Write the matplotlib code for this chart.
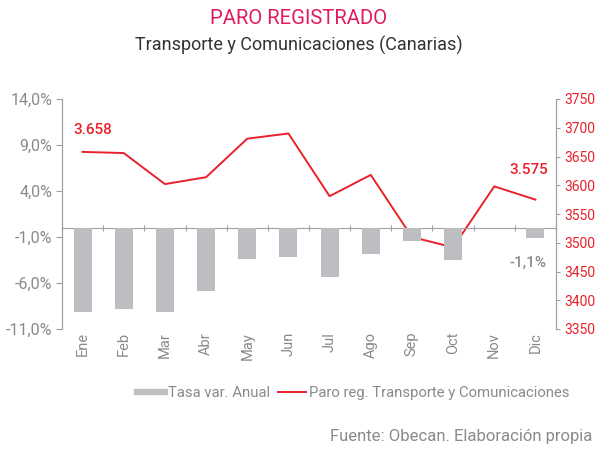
import matplotlib
matplotlib.use('Agg')
import matplotlib.pyplot as plt
from matplotlib.lines import Line2D
import numpy as np

plt.rcParams['font.family'] = ['Roboto', 'DejaVu Sans']

# ── Data ─────────────────────────────────────────────────────
meses = ['Ene', 'Feb', 'Mar', 'Abr', 'May', 'Jun',
         'Jul', 'Ago', 'Sep', 'Oct', 'Nov', 'Dic']
tasa_var = [-9.1, -8.8, -9.2, -6.9, -3.4, -3.2,
            -5.3, -2.9, -1.4, -3.5, 0.0, -1.1]
paro = [3658, 3656, 3602, 3614, 3681, 3690,
        3581, 3618, 3510, 3492, 3598, 3575]
pct_ticks = [14, 9, 4, -1, -6, -11]
paro_ticks = [3350, 3400, 3450, 3500, 3550, 3600, 3650, 3700, 3750]

GRAY_TXT = '#8A8A8A'
GRAY_AX = '#A0A0A0'
BAR = '#BDBEC1'
RED = '#E8212B'
TITLE_RED = '#E2195A'

fig = plt.figure(figsize=(5.97, 4.5), dpi=100)
ax = fig.add_axes([62/597, 1 - 329/450, 494/597, 230/450])
ax2 = ax.twinx()

x = np.arange(len(meses))

# line (behind the bars)
ax2.plot(x, paro, color=RED, lw=1.4)
ax2.set_ylim(3350, 3750)
ax2.set_yticks(paro_ticks)
ax2.tick_params(axis='y', colors=GRAY_AX, labelcolor=RED, labelsize=10,
                length=3, width=0.8, pad=3)

# bars
ax.bar(x, tasa_var, width=0.44, color=BAR, zorder=3)
ax.set_ylim(-11, 14)
ax.set_xlim(-0.5, 11.5)
ax.set_yticks(pct_ticks)
ax.set_yticklabels([f'{v:.1f}%'.replace('.', ',') for v in pct_ticks])
ax.tick_params(axis='y', colors=GRAY_AX, labelcolor=GRAY_TXT, labelsize=11.5,
               length=4, width=0.8, pad=3)

ax.set_zorder(ax2.get_zorder() + 1)
ax.patch.set_visible(False)

# zero line with boundary ticks
ax.spines['bottom'].set_position(('data', 0))
ax.spines['bottom'].set_color(GRAY_AX)
ax.spines['bottom'].set_zorder(2)
ax.set_xticks(np.arange(-0.5, 12, 1))
ax.set_xticklabels([])
ax.tick_params(axis='x', direction='inout', length=5, width=0.8, colors=GRAY_AX)

sec = ax.secondary_xaxis('bottom')
sec.set_xticks(x)
sec.set_xticklabels(meses, rotation=90, color=GRAY_TXT, fontsize=10.5)
sec.tick_params(length=0, pad=2)
sec.spines['bottom'].set_visible(False)

for a in (ax, ax2):
    a.spines['top'].set_visible(False)
    a.spines['left'].set_color(GRAY_AX)
    a.spines['right'].set_color(GRAY_AX)
ax2.spines['bottom'].set_visible(False)

# annotations
ax2.annotate('3.658', xy=(x[0], paro[0]), xytext=(7, 16), textcoords='offset points',
             ha='center', va='center', color=RED, fontsize=11, fontweight='medium')
ax2.annotate('3.575', xy=(x[-1], paro[-1]), xytext=(-5, 21), textcoords='offset points',
             ha='center', va='center', color=RED, fontsize=11, fontweight='medium')
ax.annotate(f'{tasa_var[-1]:.1f}%'.replace('.', ','), xy=(x[-1], tasa_var[-1]),
            xytext=(-5, -18), textcoords='offset points',
            ha='center', va='center', color=GRAY_TXT, fontsize=11, fontweight='medium')

# titles
fig.text(0.5, 1 - 18/450, 'PARO REGISTRADO', ha='center', va='center',
         color=TITLE_RED, fontsize=14.6)
fig.text(0.5, 1 - 45/450, 'Transporte y Comunicaciones (Canarias)', ha='center',
         va='center', color='#333333', fontsize=13)

# legend
handles = [Line2D([], [], color=BAR, lw=4.5),
           Line2D([], [], color=RED, lw=1.4)]
fig.legend(handles, ['Tasa var. Anual', 'Paro reg. Transporte y Comunicaciones'],
           loc='center', bbox_to_anchor=(353/597, 1 - 393/450), ncol=2,
           frameon=False, fontsize=10.7, handlelength=1.9, handletextpad=0.2,
           columnspacing=0.5, labelcolor=GRAY_TXT)

fig.text(592/597, 1 - 437/450, 'Fuente: Obecan. Elaboración propia', ha='right',
         va='center', color=GRAY_TXT, fontsize=12)

fig.savefig('out.png', dpi=100)
